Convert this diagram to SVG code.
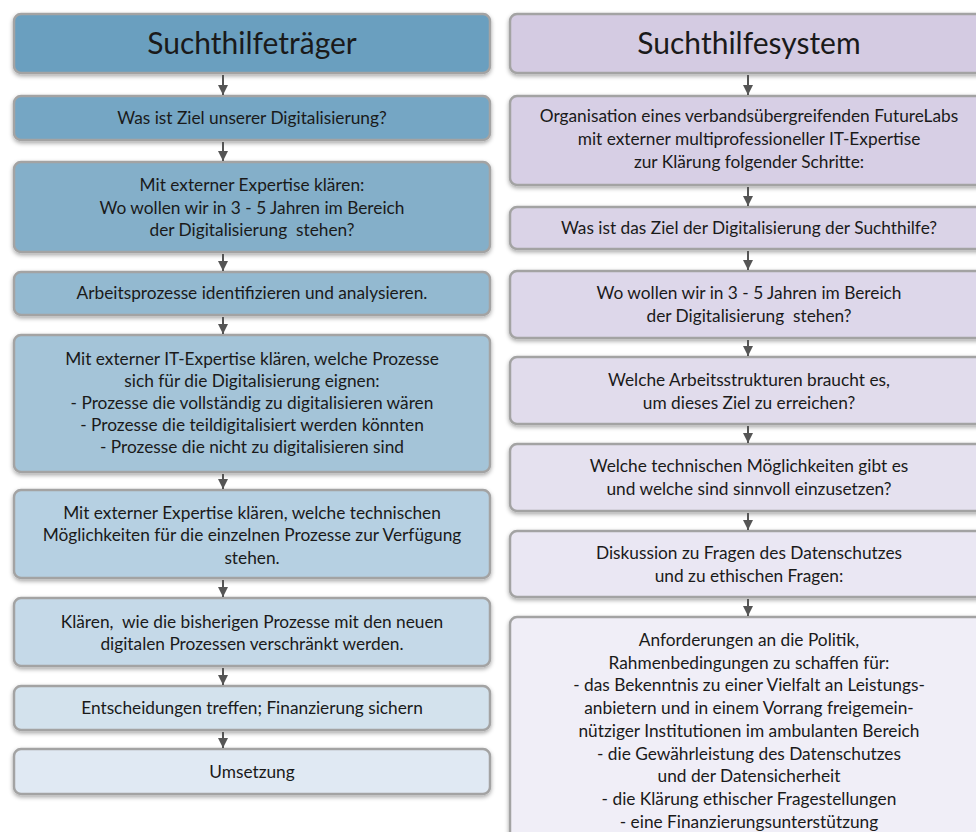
<svg xmlns="http://www.w3.org/2000/svg" width="976" height="832" viewBox="0 0 976 832">
<defs>
<filter id="sh" x="-5%" y="-20%" width="110%" height="150%">
<feDropShadow dx="0" dy="2" stdDeviation="2.2" flood-color="#000" flood-opacity="0.35"/>
</filter>
<marker id="ah" viewBox="0 0 10 10" refX="10" refY="5" markerWidth="10" markerHeight="10" markerUnits="userSpaceOnUse" orient="auto">
<path d="M0,0 L10,5 L0,10 Z" fill="#555"/>
</marker>
<style>
.b{stroke:#a3a3a3;stroke-width:2.5;filter:url(#sh)}
.t{font-family:Lato,"Open Sans","Liberation Sans",sans-serif;font-size:17.3px;fill:#1a1a1a;text-anchor:middle;white-space:pre}
.h{font-size:30px}
.c line{stroke:#555;stroke-width:2}
</style>
</defs>
<rect width="976" height="832" fill="#fff"/>
<g id="l1"><rect class="b" x="14" y="14" width="476" height="59" rx="7" fill="#6a9fbf"/><text class="t h" x="252" y="54">Suchthilfeträger</text></g>
<g id="l2"><rect class="b" x="14" y="96" width="476" height="44" rx="7" fill="#74a6c4"/><text class="t" x="252" y="124">Was ist Ziel unserer Digitalisierung?</text></g>
<g id="l3"><rect class="b" x="14" y="162" width="476" height="90" rx="7" fill="#84afc9"/><text class="t" x="252" y="191">Mit externer Expertise klären:<tspan x="252" dy="22.5">Wo wollen wir in 3 - 5 Jahren im Bereich</tspan><tspan x="252" dy="22.5">der Digitalisierung  stehen?</tspan></text></g>
<g id="l4"><rect class="b" x="14" y="272" width="476" height="43" rx="7" fill="#93b9d0"/><text class="t" x="252" y="299">Arbeitsprozesse identifizieren und analysieren.</text></g>
<g id="l5"><rect class="b" x="14" y="335" width="476" height="137" rx="7" fill="#a4c4d8"/><text class="t" x="252" y="365">Mit externer IT-Expertise klären, welche Prozesse<tspan x="252" dy="22">sich für die Digitalisierung eignen:</tspan><tspan x="252" dy="22">- Prozesse die vollständig zu digitalisieren wären</tspan><tspan x="252" dy="22">- Prozesse die teildigitalisiert werden könnten</tspan><tspan x="252" dy="22">- Prozesse die nicht zu digitalisieren sind</tspan></text></g>
<g id="l6"><rect class="b" x="14" y="490" width="476" height="88" rx="7" fill="#b6d0e2"/><text class="t" x="252" y="518.5">Mit externer Expertise klären, welche technischen<tspan x="252" dy="22.5">Möglichkeiten für die einzelnen Prozesse zur Verfügung</tspan><tspan x="252" dy="22.5">stehen.</tspan></text></g>
<g id="l7"><rect class="b" x="14" y="598" width="476" height="68" rx="7" fill="#c5d9e8"/><text class="t" x="252" y="628">Klären,  wie die bisherigen Prozesse mit den neuen<tspan x="252" dy="22">digitalen Prozessen verschränkt werden.</tspan></text></g>
<g id="l8"><rect class="b" x="14" y="686" width="476" height="44" rx="7" fill="#d3e2ed"/><text class="t" x="252" y="714">Entscheidungen treffen; Finanzierung sichern</text></g>
<g id="l9"><rect class="b" x="14" y="749" width="476" height="45" rx="7" fill="#e0e9f3"/><text class="t" x="252" y="777.5">Umsetzung</text></g>

<g id="r1"><rect class="b" x="510" y="14" width="478" height="59" rx="7" fill="#d4cbe2"/><text class="t h" x="749" y="54">Suchthilfesystem</text></g>
<g id="r2"><rect class="b" x="510" y="96" width="478" height="89" rx="7" fill="#d7cfe5"/><text class="t" x="749" y="122">Organisation eines verbandsübergreifenden FutureLabs<tspan x="749" dy="23">mit externer multiprofessioneller IT-Expertise</tspan><tspan x="749" dy="23">zur Klärung folgender Schritte:</tspan></text></g>
<g id="r3"><rect class="b" x="510" y="207" width="478" height="42" rx="7" fill="#dad3e7"/><text class="t" x="749" y="234">Was ist das Ziel der Digitalisierung der Suchthilfe?</text></g>
<g id="r4"><rect class="b" x="510" y="271" width="478" height="67" rx="7" fill="#ddd7ea"/><text class="t" x="749" y="299">Wo wollen wir in 3 - 5 Jahren im Bereich<tspan x="749" dy="22.5">der Digitalisierung  stehen?</tspan></text></g>
<g id="r5"><rect class="b" x="510" y="357" width="478" height="67" rx="7" fill="#e1dcec"/><text class="t" x="749" y="386">Welche Arbeitsstrukturen braucht es,<tspan x="749" dy="22.5">um dieses Ziel zu erreichen?</tspan></text></g>
<g id="r6"><rect class="b" x="510" y="444" width="478" height="67" rx="7" fill="#e5e1ef"/><text class="t" x="749" y="472">Welche technischen Möglichkeiten gibt es<tspan x="749" dy="22.5">und welche sind sinnvoll einzusetzen?</tspan></text></g>
<g id="r7"><rect class="b" x="510" y="531" width="478" height="66" rx="7" fill="#eae7f3"/><text class="t" x="749" y="559">Diskussion zu Fragen des Datenschutzes<tspan x="749" dy="22.5">und zu ethischen Fragen:</tspan></text></g>
<g id="r8"><rect class="b" x="510" y="617" width="478" height="240" rx="7" fill="#f0eef7"/><text class="t" x="749" y="646">Anforderungen an die Politik,<tspan x="749" dy="22.7">Rahmenbedingungen zu schaffen für:</tspan><tspan x="749" dy="22.7">- das Bekenntnis zu einer Vielfalt an Leistungs-</tspan><tspan x="749" dy="22.7">anbietern und in einem Vorrang freigemein-</tspan><tspan x="749" dy="22.7">nütziger Institutionen im ambulanten Bereich</tspan><tspan x="749" dy="22.7">- die Gewährleistung des Datenschutzes</tspan><tspan x="749" dy="22.7">und der Datensicherheit</tspan><tspan x="749" dy="22.7">- die Klärung ethischer Fragestellungen</tspan><tspan x="749" dy="22.7">- eine Finanzierungsunterstützung</tspan></text></g>

<g id="connectors" class="c">
<line x1="223" y1="75" x2="223" y2="95" marker-end="url(#ah)"/>
<line x1="223" y1="142" x2="223" y2="161" marker-end="url(#ah)"/>
<line x1="223" y1="254" x2="223" y2="271" marker-end="url(#ah)"/>
<line x1="223" y1="317" x2="223" y2="334" marker-end="url(#ah)"/>
<line x1="223" y1="474" x2="223" y2="489" marker-end="url(#ah)"/>
<line x1="223" y1="580" x2="223" y2="597" marker-end="url(#ah)"/>
<line x1="223" y1="668" x2="223" y2="685" marker-end="url(#ah)"/>
<line x1="223" y1="732" x2="223" y2="748" marker-end="url(#ah)"/>
<line x1="748" y1="75" x2="748" y2="95" marker-end="url(#ah)"/>
<line x1="748" y1="187" x2="748" y2="206" marker-end="url(#ah)"/>
<line x1="748" y1="251" x2="748" y2="270" marker-end="url(#ah)"/>
<line x1="748" y1="340" x2="748" y2="356" marker-end="url(#ah)"/>
<line x1="748" y1="426" x2="748" y2="443" marker-end="url(#ah)"/>
<line x1="748" y1="513" x2="748" y2="530" marker-end="url(#ah)"/>
<line x1="748" y1="599" x2="748" y2="616" marker-end="url(#ah)"/>
</g>
</svg>
